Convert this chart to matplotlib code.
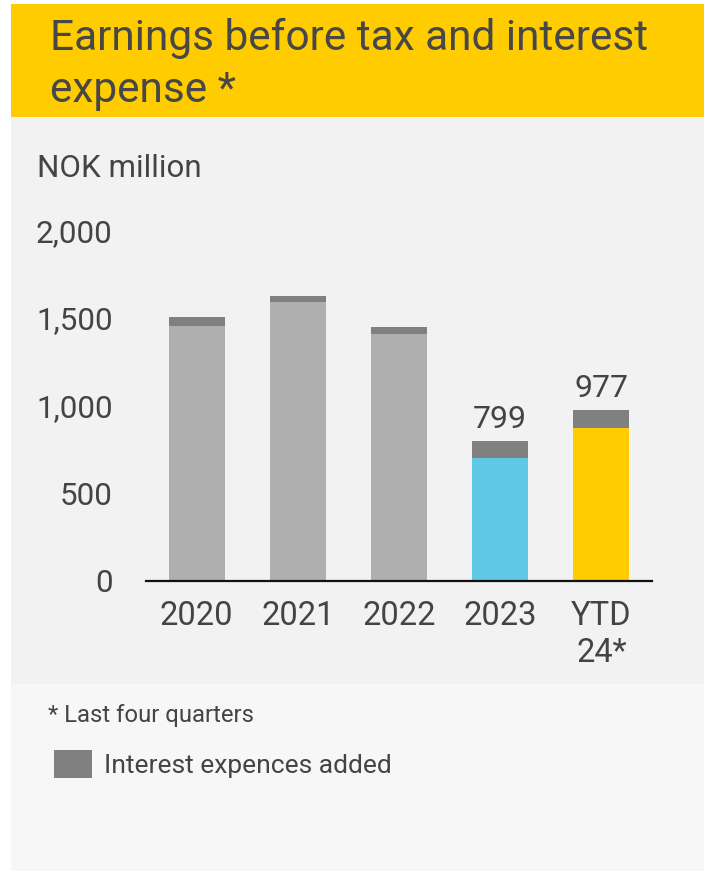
import matplotlib
matplotlib.use("Agg")
import matplotlib.pyplot as plt
from matplotlib.patches import Rectangle

# --- data (NOK million) ---
categories = ["2020", "2021", "2022", "2023", "YTD\n24*"]
ebt_before_interest = [1453, 1590, 1408, 700, 874]
interest_added = [56, 39, 42, 99, 103]
base_colors = ["#afafaf", "#afafaf", "#afafaf", "#5fc8e4", "#ffcc00"]
labelled = [False, False, False, True, True]
y_ticks = [0, 500, 1000, 1500, 2000]
y_ticklabels = ["0", "500", "1,000", "1,500", "2,000"]

title = "Earnings before tax and interest\nexpense *"
unit_label = "NOK million"
footnote = "* Last four quarters"
legend_label = "Interest expences added"

TEXT = "#444444"
FONT = ["Roboto", "DejaVu Sans"]
plt.rcParams["font.family"] = FONT

W, H = 704, 872
fig = plt.figure(figsize=(W / 100, H / 100), dpi=100)
fig.patch.set_facecolor("white")


def fx(x):
    return x / W


def fy(y):
    return 1 - y / H


def panel(x0, y0, x1, y1, color):
    fig.add_artist(Rectangle((fx(x0), fy(y1)), fx(x1) - fx(x0), fy(y0) - fy(y1),
                             transform=fig.transFigure, facecolor=color,
                             edgecolor="none", zorder=0))


# background panels
panel(11, 4, 704, 117, "#ffcc00")
panel(11, 117, 704, 684, "#f2f2f2")
panel(11, 684, 704, 871, "#f7f7f7")

fig.text(fx(50), fy(18), title, fontsize=30.5, color="#474747", va="top",
         ha="left", linespacing=1.34)
fig.text(fx(37), fy(176.7), unit_label, fontsize=22.6, color=TEXT,
         va="baseline", ha="left")

# chart area
ax = fig.add_axes([fx(146), fy(581), fx(652) - fx(146), fy(230.5) - fy(581)])
ax.set_facecolor("none")
x = list(range(len(categories)))
ax.bar(x, ebt_before_interest, width=0.555, color=base_colors, zorder=2)
totals = [b + i for b, i in zip(ebt_before_interest, interest_added)]
ax.bar(x, interest_added, width=0.555, bottom=ebt_before_interest,
       color="#808080", label=legend_label, zorder=2)

for xi, tot, show in zip(x, totals, labelled):
    if show:
        ax.annotate(f"{tot:,}", (xi, tot), xytext=(0, 9.4),
                    textcoords="offset points", ha="center", va="baseline",
                    fontsize=23, color=TEXT)

ax.set_xlim(-0.5, len(categories) - 0.5)
ax.set_ylim(0, 2000)
ax.set_yticks(y_ticks)
ax.set_yticklabels(y_ticklabels)
ax.set_xticks(x)
ax.set_xticklabels(categories, linespacing=1.22)
ax.tick_params(axis="y", length=0, pad=24, labelsize=22.6, labelcolor=TEXT)
ax.tick_params(axis="x", length=0, pad=13.5, labelsize=23.5, labelcolor=TEXT)
for s in ("left", "right", "top"):
    ax.spines[s].set_visible(False)
ax.spines["bottom"].set_color("#111111")
ax.spines["bottom"].set_linewidth(1.6)
ax.spines["bottom"].set_zorder(3)

# footnote and legend
fig.text(fx(48), fy(722.3), footnote, fontsize=17.2, color=TEXT,
         va="baseline", ha="left")
handles, labels = ax.get_legend_handles_labels()
fs = 19.0
fs_px = fs * 100 / 72
leg = fig.legend(handles, labels, loc="upper left",
                 bbox_to_anchor=(fx(54), fy(750)), frameon=False,
                 fontsize=fs, labelcolor=TEXT, borderpad=0, borderaxespad=0,
                 handlelength=38 / fs_px, handleheight=33 / fs_px,
                 handletextpad=12 / fs_px)

fig.savefig("out.png", dpi=100)
